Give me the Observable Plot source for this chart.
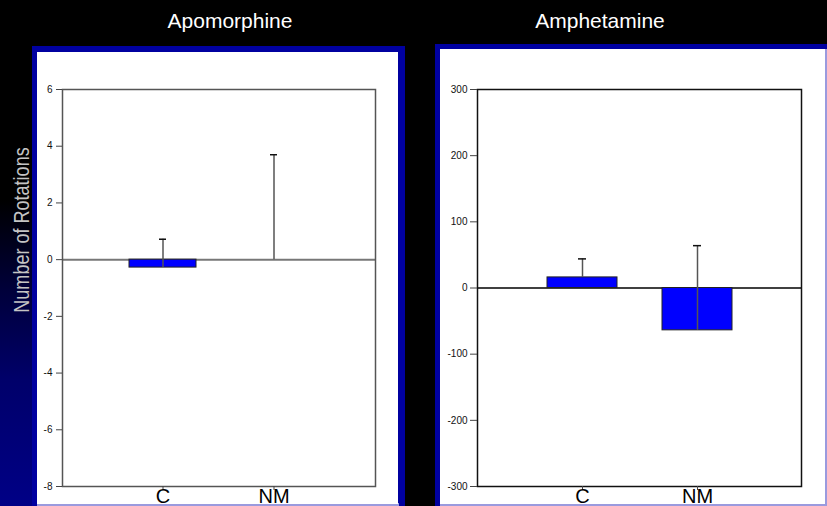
<!DOCTYPE html>
<html><head><meta charset="utf-8">
<script src="https://cdn.jsdelivr.net/npm/d3@7"></script>
<script src="https://cdn.jsdelivr.net/npm/@observablehq/plot@0.6"></script>
<style>
html,body{margin:0;padding:0;background:#000;width:827px;height:506px;overflow:hidden;font-family:Arial,"Liberation Sans",sans-serif;}
#stage{position:relative;width:827px;height:506px;background:#000;overflow:hidden;}
.abs{position:absolute;}
#strip{left:0;top:0;width:32px;height:506px;background:linear-gradient(to bottom,#000 0px,#000 200px,#00003a 290px,#00006a 380px,#000086 506px);}
.blue{background:#0000a0;}
.white{background:#fff;}
.lav{background:#9a9ade;}
#overlay{position:absolute;left:0;top:0;pointer-events:none;}
</style>
</head><body>
<div id="stage">
  <div id="strip" class="abs"></div>
  <div class="abs blue" style="left:32px;top:46px;width:373px;height:460px;"></div>
  <div class="abs lav" style="left:37px;top:503px;width:362px;height:3px;"></div>
  <div class="abs blue" style="left:435px;top:44px;width:392px;height:462px;"></div>
  <div class="abs lav" style="left:440px;top:49px;width:387px;height:457px;"></div>
  <div id="left" class="abs white" style="left:37px;top:52px;width:361px;height:452px;"></div>
  <div id="right" class="abs white" style="left:440px;top:49px;width:385px;height:455px;"></div>
  <svg id="overlay" width="827" height="506">
    <text x="230" y="28" text-anchor="middle" font-size="21" fill="#fff" font-family="Arial, 'Liberation Sans', sans-serif">Apomorphine</text>
    <text x="600" y="28" text-anchor="middle" font-size="21" fill="#fff" font-family="Arial, 'Liberation Sans', sans-serif">Amphetamine</text>
    <text transform="translate(29,230) rotate(-90) scale(0.82,1)" text-anchor="middle" font-size="22" fill="#c4c4c4" font-family="Arial, 'Liberation Sans', sans-serif">Number of Rotations</text>
  </svg>
</div>
<script>
const categories = ["C", "NM"];
const apoMean = [-0.28, 0];
const apoSE = [1.0, 3.7];
const amphMean = [16, -64];
const amphSE = [28, 128];
const apoTicks = [-8, -6, -4, -2, 0, 2, 4, 6];
const amphTicks = [-300, -200, -100, 0, 100, 200, 300];

function rows(mean, se) {
  return categories.map((c, i) => ({cat: c, mean: mean[i], top: mean[i] + se[i]}));
}

function panel(o) {
  return Plot.plot({
    width: o.width, height: o.height,
    marginLeft: o.ml, marginTop: o.mt, marginRight: o.mr, marginBottom: o.mb,
    style: {background: "#fff", fontFamily: "Arial, 'Liberation Sans', sans-serif", overflow: "visible"},
    x: {type: "band", domain: categories, paddingInner: 0.395, paddingOuter: 0.595, align: 0.5},
    y: {domain: o.domain},
    marks: [
      Plot.ruleY([0], {stroke: o.zeroStroke, strokeWidth: o.zeroWidth}),
      Plot.barY(o.data, {x: "cat", y: "mean", fill: "#0000ff", stroke: "#222", strokeWidth: 1}),
      Plot.ruleX(o.data, {x: "cat", y1: "mean", y2: "top", stroke: "#555", strokeWidth: 1.5}),
      Plot.tickY(o.data, {x: "cat", y: "top", stroke: "#111", strokeWidth: 1.5, insetLeft: o.capInset, insetRight: o.capInset}),
      Plot.frame({stroke: o.frameStroke, strokeWidth: 1.5}),
      Plot.axisY({ticks: o.ticks, tickFormat: d => String(d), tickSize: o.tickSize, tickPadding: o.tickPadding, fontSize: 10, label: null, stroke: "#444", fill: "#111"}),
      Plot.axisX({tickSize: 4, tickPadding: -2, fontSize: 20, label: null, stroke: "#444", fill: "#000"})
    ]
  });
}

document.getElementById("left").append(panel({
  data: rows(apoMean, apoSE), domain: [-8, 6], ticks: apoTicks,
  width: 361, height: 452, ml: 25, mt: 37, mr: 23, mb: 18,
  tickSize: 6, tickPadding: 4, zeroStroke: "#777", zeroWidth: 2, frameStroke: "#555", capInset: 30
}));
document.getElementById("right").append(panel({
  data: rows(amphMean, amphSE), domain: [-300, 300], ticks: amphTicks,
  width: 385, height: 455, ml: 37, mt: 40, mr: 24, mb: 18,
  tickSize: 7, tickPadding: 3, zeroStroke: "#000", zeroWidth: 1.5, frameStroke: "#111", capInset: 31
}));
</script>
</body></html>
